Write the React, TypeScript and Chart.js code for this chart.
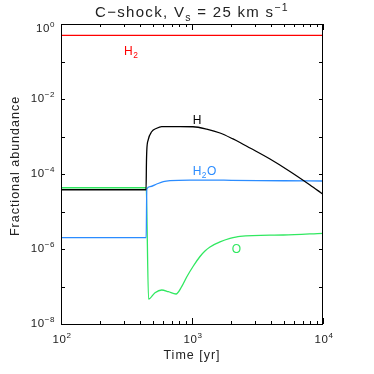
import { useEffect, useRef } from 'react';
import { Chart, registerables } from 'chart.js';
Chart.register(...registerables);

// ---- data (time in yr, fractional abundance) ----
const H2_TIME = [100, 10000];
const H2_ABUND = [0.5, 0.5];

const H_TIME = [100, 300, 446, 449, 452, 463, 492, 538, 587, 810, 1018, 1295, 1636, 2056, 2324, 2773, 3939, 5597, 7955, 10000];
const H_ABUND = [3.8e-5, 3.8e-5, 3.8e-5, 2.0e-4, 4.4e-4, 8.1e-4, 1.34e-3, 1.66e-3, 1.83e-3, 1.84e-3, 1.82e-3, 1.57e-3, 1.24e-3, 8.6e-4, 6.92e-4, 4.94e-4, 2.51e-4, 1.17e-4, 5.1e-5, 2.88e-5];

const H2O_TIME = [100, 300, 447, 452, 478, 538, 604, 679, 966, 2000, 5000, 10000];
const H2O_ABUND = [2.0e-6, 2.0e-6, 2.0e-6, 3.98e-5, 4.58e-5, 5.41e-5, 6.23e-5, 6.63e-5, 6.9e-5, 6.8e-5, 6.6e-5, 6.5e-5];

const O_TIME = [100, 300, 447, 466, 522, 587, 660, 755, 834, 911, 1024, 1151, 1256, 1372, 1636, 1950, 2324, 4977, 10000];
const O_ABUND = [4.3e-5, 4.3e-5, 4.3e-5, 4.6e-8, 6.84e-8, 8.07e-8, 7.26e-8, 6.31e-8, 9.88e-8, 1.79e-7, 3.52e-7, 6.31e-7, 8.85e-7, 1.13e-6, 1.54e-6, 1.91e-6, 2.18e-6, 2.36e-6, 2.62e-6];

const X_TICK_VALUES = [100, 1000, 10000];
const X_TICK_EXPONENTS = ['2', '3', '4'];
const Y_TICK_VALUES = [1, 1e-2, 1e-4, 1e-6, 1e-8];
const Y_TICK_EXPONENTS = ['0', '−2', '−4', '−6', '−8'];

const LABEL_MAIN = ['H', 'H', 'H', 'O'];
const LABEL_SUB = ['2', '', '2', ''];
const LABEL_AFTER = ['', '', 'O', ''];
const LABEL_TIME = [303, 1012, 1012, 2009];
const LABEL_ABUND = [0.149, 2.1e-3, 9.4e-5, 7.7e-7];
const LABEL_COLOR = ['#ff0000', '#000000', '#2b8cff', '#30e860'];

const FONT = '"Liberation Sans", Arial, sans-serif';

type Seg = [string, 'n' | 'sub' | 'sup'];

function drawRich(ctx: CanvasRenderingContext2D, segs: Seg[], x: number, y: number, align: 'left' | 'center' | 'right', size: number, spacing: number) {
  const small = size * 0.7;
  const fontFor = (m: string) => `${m === 'n' ? size : small}px ${FONT}`;
  ctx.save();
  (ctx as any).letterSpacing = `${spacing}px`;
  ctx.textAlign = 'left';
  ctx.textBaseline = 'alphabetic';
  let total = 0;
  const widths = segs.map(([t, m]) => {
    ctx.font = fontFor(m);
    const w = ctx.measureText(t).width;
    total += w;
    return w;
  });
  let cx = align === 'left' ? x : align === 'center' ? x - total / 2 : x - total;
  segs.forEach(([t, m], i) => {
    ctx.font = fontFor(m);
    const dy = m === 'sub' ? size * 0.28 : m === 'sup' ? -size * 0.42 : 0;
    ctx.fillText(t, cx, y + dy);
    cx += widths[i];
  });
  ctx.restore();
}

const framePlugin = {
  id: 'idlFrame',
  afterDraw(chart: any) {
    const { ctx, chartArea } = chart;
    const { left, right, top, bottom } = chartArea;
    const xs = chart.scales.x;
    const ys = chart.scales.y;
    ctx.save();
    ctx.strokeStyle = '#000';
    ctx.lineWidth = 1;
    ctx.strokeRect(Math.round(left) + 0.5, Math.round(top) + 0.5, Math.round(right - left) - 1, Math.round(bottom - top));
    // x ticks (inside, bottom and top)
    ctx.beginPath();
    for (let d = 100; d < 10000; d *= 10) {
      for (let k = 1; k <= 10; k++) {
        const v = d * k;
        const px = Math.round(xs.getPixelForValue(v)) + 0.5;
        const len = k === 1 || k === 10 ? 6 : 3;
        ctx.moveTo(px, bottom);
        ctx.lineTo(px, bottom - len);
        ctx.moveTo(px, top);
        ctx.lineTo(px, top + len);
      }
    }
    // y ticks (every decade)
    for (let e = -8; e <= 0; e++) {
      const py = Math.round(ys.getPixelForValue(Math.pow(10, e))) + 0.5;
      const len = 4;
      ctx.moveTo(left, py);
      ctx.lineTo(left + len, py);
      ctx.moveTo(right, py);
      ctx.lineTo(right - len, py);
    }
    ctx.stroke();

    ctx.fillStyle = '#222';
    // x tick labels
    X_TICK_VALUES.forEach((v, i) => {
      const px = xs.getPixelForValue(v);
      drawRich(ctx, [['10', 'n'], [X_TICK_EXPONENTS[i], 'sup']], px + 1, bottom + 19, 'center', 11.5, 0.6);
    });
    // y tick labels
    Y_TICK_VALUES.forEach((v, i) => {
      const py = ys.getPixelForValue(v);
      const base = Math.max(py + 3, top + 8);
      drawRich(ctx, [['10', 'n'], [Y_TICK_EXPONENTS[i], 'sup']], left - 6, base, 'right', 11.5, 0.6);
    });
    // axis titles
    const midX = (left + right) / 2;
    drawRich(ctx, [['Time [yr]', 'n']], midX, bottom + 35, 'center', 12.5, 1);
    ctx.save();
    ctx.translate(19, (top + bottom) / 2 - 8);
    ctx.rotate(-Math.PI / 2);
    drawRich(ctx, [['Fractional abundance', 'n']], 0, 0, 'center', 12.5, 1);
    ctx.restore();
    // title
    drawRich(ctx, [['C−shock, V', 'n'], ['s', 'sub'], [' = 25 km s', 'n'], ['−1', 'sup']], midX, 17, 'center', 15, 1.3);
    // curve labels
    LABEL_MAIN.forEach((t, i) => {
      ctx.fillStyle = LABEL_COLOR[i];
      const segs: Seg[] = [[t, 'n']];
      if (LABEL_SUB[i]) segs.push([LABEL_SUB[i], 'sub']);
      if (LABEL_AFTER[i]) segs.push([LABEL_AFTER[i], 'n']);
      drawRich(ctx, segs, xs.getPixelForValue(LABEL_TIME[i]), ys.getPixelForValue(LABEL_ABUND[i]), 'left', 12, 0.5);
    });
    ctx.restore();
  },
};

function series(t: number[], v: number[]) {
  return t.map((x, i) => ({ x, y: v[i] }));
}

export default function App() {
  const ref = useRef<HTMLCanvasElement>(null);
  useEffect(() => {
    document.body.style.margin = '0';
    const canvas = ref.current!;
    const chart = new Chart(canvas, {
      type: 'line',
      data: {
        datasets: [
          { label: 'H2', data: series(H2_TIME, H2_ABUND), borderColor: '#ff0000' },
          { label: 'H', data: series(H_TIME, H_ABUND), borderColor: '#000000' },
          { label: 'H2O', data: series(H2O_TIME, H2O_ABUND), borderColor: '#2b8cff' },
          { label: 'O', data: series(O_TIME, O_ABUND), borderColor: '#30e860' },
        ],
      },
      options: {
        animation: false,
        responsive: false,
        devicePixelRatio: 1,
        layout: { padding: { left: 61, right: 51, top: 24, bottom: 50 } },
        plugins: { legend: { display: false }, tooltip: { enabled: false }, title: { display: false } },
        scales: {
          x: { type: 'logarithmic', min: 100, max: 10000, display: false },
          y: { type: 'logarithmic', min: 1e-8, max: 1, display: false },
        },
        elements: {
          point: { radius: 0 },
          line: { borderWidth: 1.3, cubicInterpolationMode: 'monotone', fill: false },
        },
      } as any,
      plugins: [framePlugin],
    });
    return () => chart.destroy();
  }, []);
  return <canvas ref={ref} width={374} height={374} style={{ display: 'block', width: 374, height: 374 }} />;
}
